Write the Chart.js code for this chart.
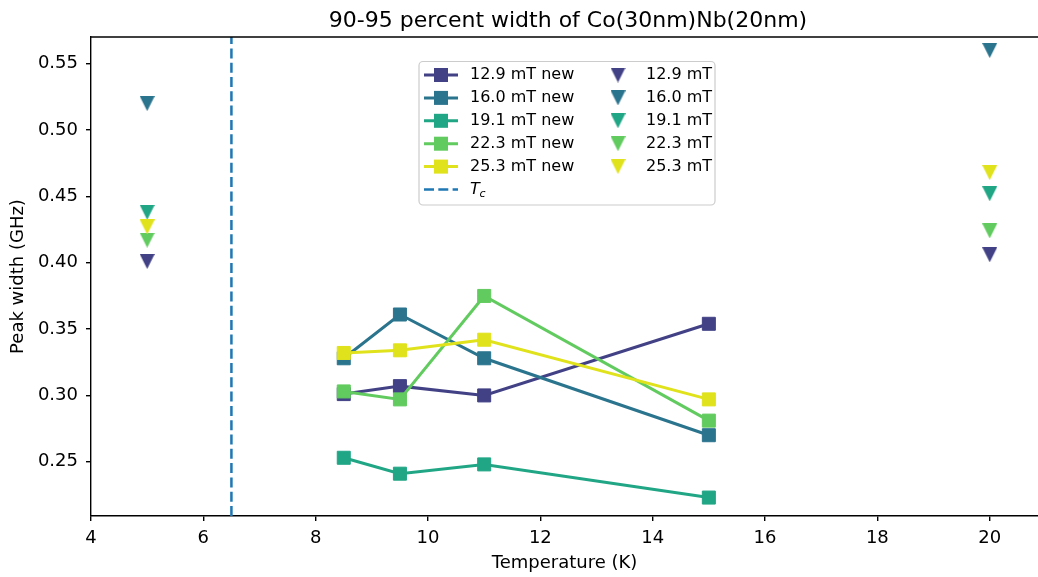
<!DOCTYPE html>
<html>
<head>
<meta charset="utf-8">
<title>90-95 percent width of Co(30nm)Nb(20nm)</title>
<script src="https://cdn.jsdelivr.net/npm/chart.js@4.4.0/dist/chart.umd.min.js"></script>
<style>
  html, body { margin: 0; padding: 0; background: #fff; }
  #wrap { width: 1038px; height: 577px; }
</style>
</head>
<body>
<div id="wrap"><canvas id="grafico"></canvas></div>
<script>
// --- Datos ---
const temps = [8.5, 9.5, 11, 15];
const campos = ['12.9', '16.0', '19.1', '22.3', '25.3'];
const ancho129new = [0.301, 0.307, 0.300, 0.354];
const ancho160new = [0.328, 0.361, 0.328, 0.270];
const ancho191new = [0.253, 0.241, 0.248, 0.223];
const ancho223new = [0.303, 0.297, 0.375, 0.281];
const ancho253new = [0.332, 0.334, 0.342, 0.297];

const tempsViejos = [5, 20];
const ancho129 = [0.401, 0.406];
const ancho160 = [0.520, 0.560];
const ancho191 = [0.438, 0.452];
const ancho223 = [0.417, 0.424];
const ancho253 = [0.427, 0.468];

const tc = 6.5;
const xTicks = [4, 6, 8, 10, 12, 14, 16, 18, 20];
const yTicks = [0.25, 0.30, 0.35, 0.40, 0.45, 0.50, 0.55];
const xLim = [4, 20.86];
const yLim = [0.2091, 0.5702];

const colores = ['#424186', '#2b748e', '#21a685', '#62cb5f', '#e0e21b'];
const FUENTE = "'DejaVu Sans', sans-serif";

const seriesNew = [ancho129new, ancho160new, ancho191new, ancho223new, ancho253new];
const seriesViejas = [ancho129, ancho160, ancho191, ancho223, ancho253];

// triangulo hacia abajo (como el marcador 'v' de matplotlib)
function trianguloAbajo(color, size) {
    const c = document.createElement('canvas');
    c.width = size; c.height = size;
    const g = c.getContext('2d');
    g.fillStyle = color;
    g.beginPath();
    g.moveTo(0, 0); g.lineTo(size, 0); g.lineTo(size / 2, size);
    g.closePath(); g.fill();
    return c;
}
const triangulos = colores.map(c => trianguloAbajo(c, 15));

const datasets = [];
seriesNew.forEach((serie, i) => {
    datasets.push({
        label: `${campos[i]} mT new`,
        data: temps.map((t, j) => ({x: t, y: serie[j]})),
        showLine: true,
        borderColor: colores[i],
        backgroundColor: colores[i],
        borderWidth: 3,
        pointStyle: 'rect',
        pointRadius: 9.2,
        pointBorderWidth: 1,
        pointBorderColor: colores[i],
        order: 20 - i
    });
});
seriesViejas.forEach((serie, i) => {
    datasets.push({
        label: `${campos[i]} mT`,
        data: tempsViejos.map((t, j) => ({x: t, y: serie[j]})),
        showLine: false,
        pointStyle: triangulos[i],
        pointRadius: 8,
        order: 10 - i
    });
});
datasets.push({
    label: 'Tc',
    data: [{x: tc, y: yLim[0]}, {x: tc, y: yLim[1]}],
    showLine: true,
    borderColor: '#1f77b4',
    borderWidth: 2.5,
    borderDash: [10, 4.3],
    pointRadius: 0,
    order: 0
});

// titulo, marco superior y leyenda dibujados a mano
const extras = {
    id: 'extras',
    afterDraw(chart) {
        const {ctx, chartArea} = chart;
        ctx.save();
        // marco superior
        ctx.strokeStyle = '#000';
        ctx.lineWidth = 1.4;
        ctx.beginPath();
        ctx.moveTo(chartArea.left, chartArea.top);
        ctx.lineTo(chartArea.right, chartArea.top);
        ctx.stroke();

        // titulo
        ctx.fillStyle = '#000';
        ctx.font = `22px ${FUENTE}`;
        ctx.textAlign = 'center';
        ctx.textBaseline = 'alphabetic';
        ctx.fillText('90-95 percent width of Co(30nm)Nb(20nm)', 568, 26.5);

        // leyenda
        const bx = 419, by = 61.5, bw = 296, bh = 143.5, r = 4;
        ctx.fillStyle = 'rgba(255,255,255,0.8)';
        ctx.strokeStyle = '#cccccc';
        ctx.lineWidth = 1.2;
        ctx.beginPath();
        ctx.roundRect(bx, by, bw, bh, r);
        ctx.fill();
        ctx.stroke();

        const fila0 = 75, paso = 22.9;
        ctx.font = `16px ${FUENTE}`;
        ctx.textAlign = 'left';
        ctx.textBaseline = 'middle';
        colores.forEach((col, i) => {
            const y = fila0 + i * paso;
            ctx.strokeStyle = col;
            ctx.lineWidth = 3;
            ctx.beginPath();
            ctx.moveTo(424, y); ctx.lineTo(458, y);
            ctx.stroke();
            ctx.fillStyle = col;
            ctx.fillRect(441 - 7, y - 7, 14, 14);
            ctx.fillStyle = '#000';
            ctx.fillText(`${campos[i]} mT new`, 470, y);
            ctx.drawImage(triangulos[i], 618 - 7.5, y - 7.5);
            ctx.fillStyle = '#000';
            ctx.fillText(`${campos[i]} mT`, 646, y);
        });
        const yTc = fila0 + 5 * paso;
        ctx.strokeStyle = '#1f77b4';
        ctx.lineWidth = 2.5;
        ctx.setLineDash([10, 4.3]);
        ctx.beginPath();
        ctx.moveTo(424, yTc); ctx.lineTo(458, yTc);
        ctx.stroke();
        ctx.setLineDash([]);
        ctx.fillStyle = '#000';
        ctx.font = `italic 16px ${FUENTE}`;
        ctx.fillText('T', 470, yTc);
        ctx.font = `italic 11px ${FUENTE}`;
        ctx.fillText('c', 479.5, yTc + 5);
        ctx.restore();
    }
};

const ctx = document.getElementById('grafico').getContext('2d');
new Chart(ctx, {
    type: 'scatter',
    data: { datasets },
    plugins: [extras],
    options: {
        responsive: true,
        maintainAspectRatio: false,
        animation: false,
        layout: { autoPadding: false, padding: { top: 37, right: 0, left: 0, bottom: 0 } },
        plugins: {
            legend: { display: false },
            tooltip: { enabled: false },
            title: { display: false }
        },
        scales: {
            x: {
                type: 'linear',
                min: xLim[0], max: xLim[1],
                afterBuildTicks: s => { s.ticks = xTicks.map(v => ({value: v})); },
                afterFit: s => { s.height = 61; s.paddingLeft = 0; s.paddingRight = 0; },
                grid: { drawOnChartArea: false, drawTicks: true, tickLength: 5, color: '#000', lineWidth: 1.4 },
                border: { display: true, color: '#000', width: 1.4 },
                ticks: { color: '#000', padding: 7, font: { family: FUENTE, size: 18 }, maxRotation: 0, callback: v => String(v) },
                title: { display: true, text: 'Temperature (K)', color: '#000', font: { family: FUENTE, size: 18 }, padding: { top: 0, bottom: 3 } }
            },
            y: {
                type: 'linear',
                min: yLim[0], max: yLim[1],
                afterBuildTicks: s => { s.ticks = yTicks.map(v => ({value: v})); },
                afterFit: s => { s.width = 91; s.paddingTop = 0; s.paddingBottom = 0; },
                grid: { drawOnChartArea: false, drawTicks: true, tickLength: 5, color: '#000', lineWidth: 1.4 },
                border: { display: true, color: '#000', width: 1.4 },
                ticks: { color: '#000', padding: 8, font: { family: FUENTE, size: 18 }, callback: v => v.toFixed(2) },
                title: { display: true, text: 'Peak width (GHz)', color: '#000', font: { family: FUENTE, size: 18 }, padding: { top: 8, bottom: 0 } }
            }
        }
    }
});
</script>
</body>
</html>
